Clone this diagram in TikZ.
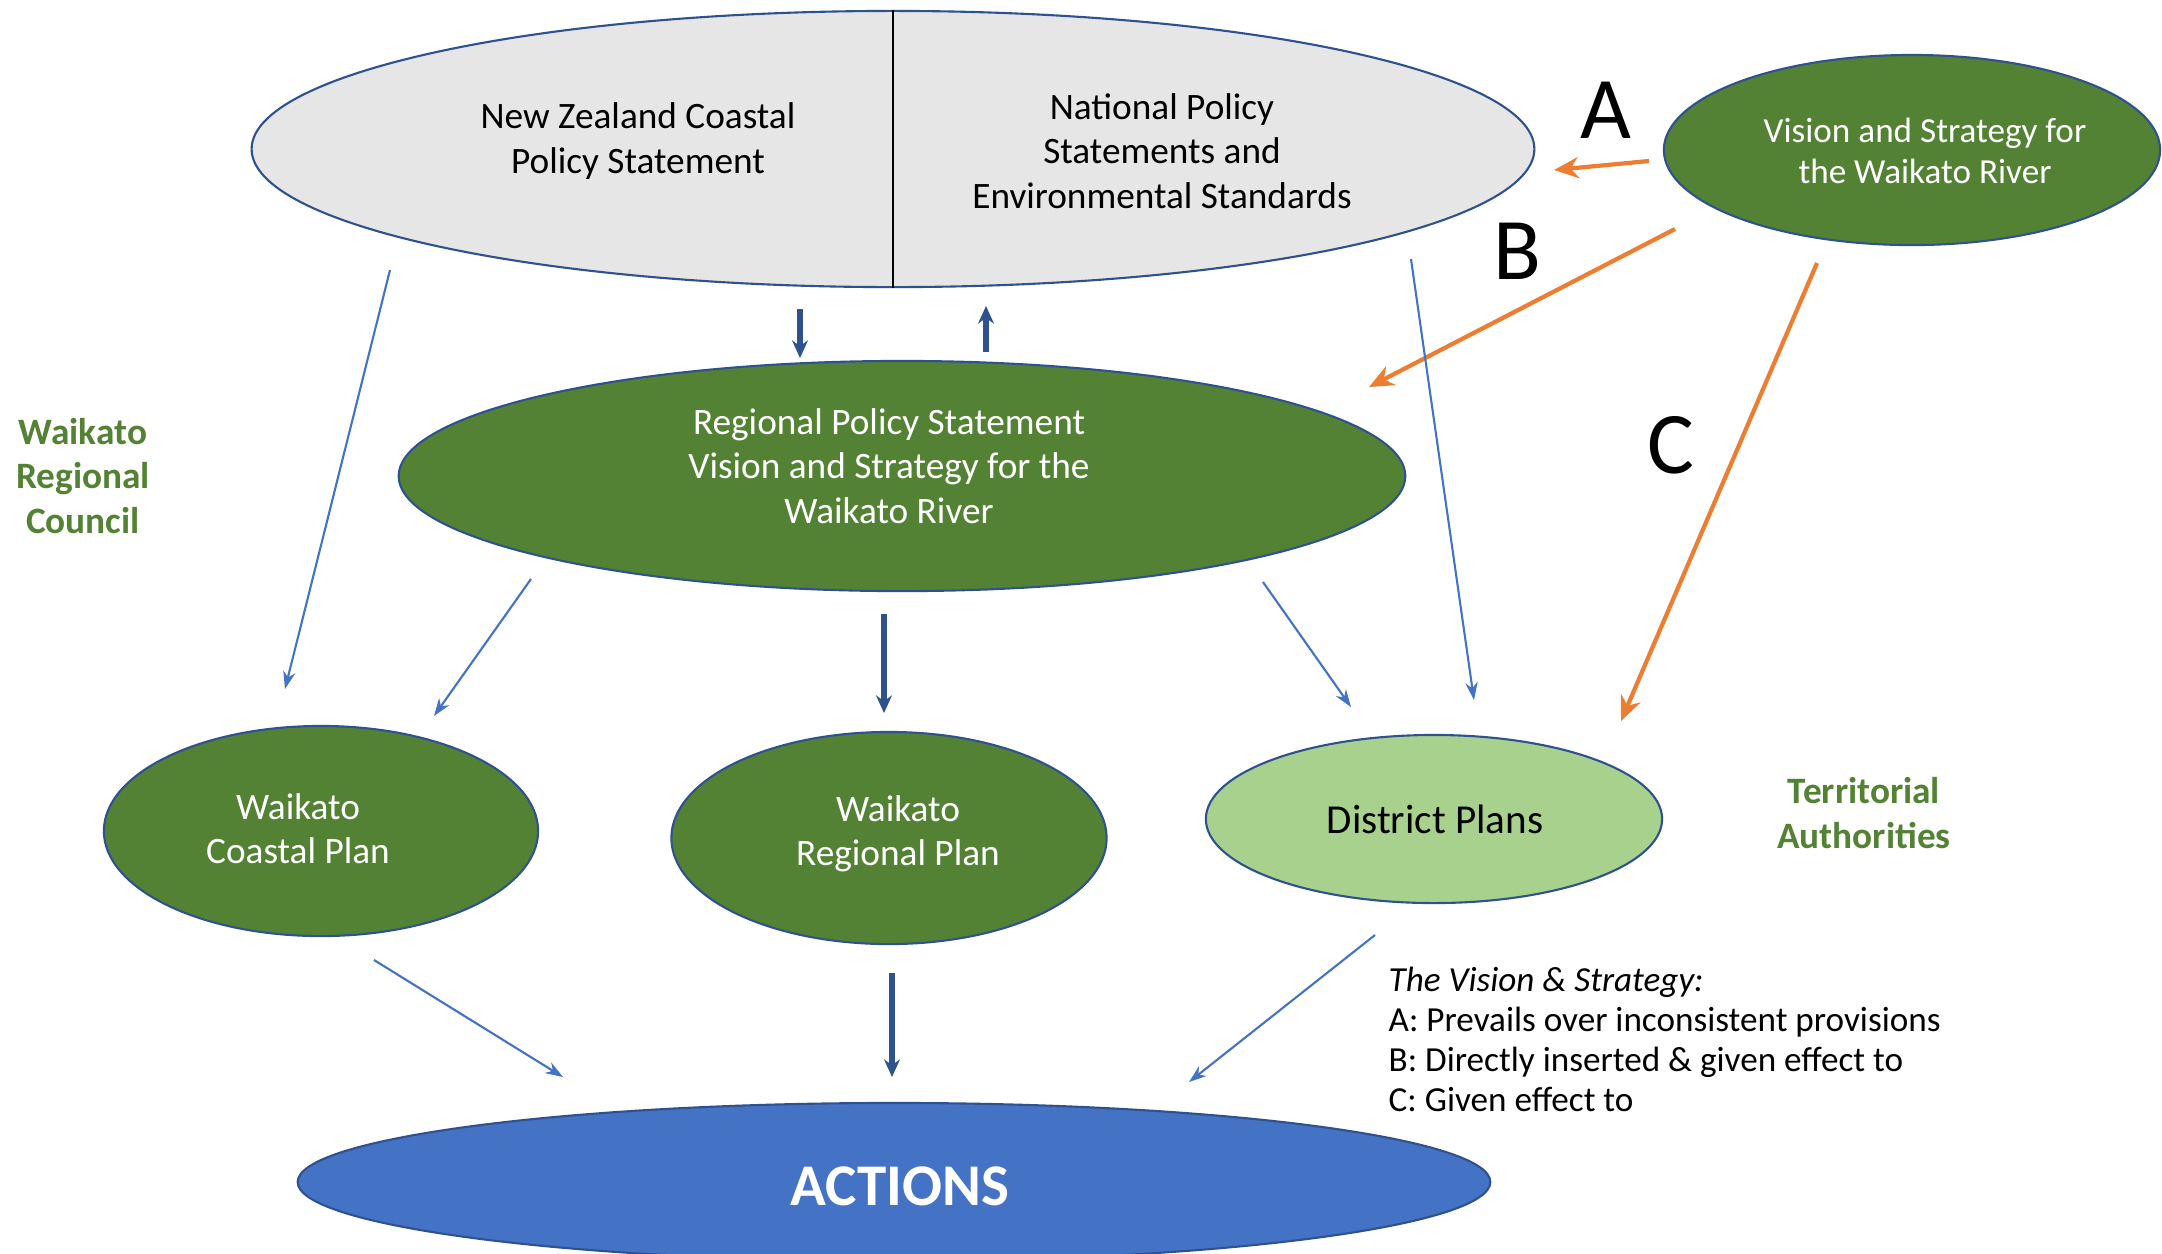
\documentclass[tikz,border=0pt]{standalone}
\usepackage{fontspec}
\setmainfont{Carlito}
\usetikzlibrary{shapes.geometric,arrows.meta}
\definecolor{dgreen}{HTML}{548235}
\definecolor{lgreen}{HTML}{A9D18E}
\definecolor{obord}{HTML}{2F528F}
\definecolor{oblue}{HTML}{4472C4}
\definecolor{oorange}{HTML}{ED7D31}
\definecolor{lgray}{HTML}{E7E6E6}
\begin{document}
\begin{tikzpicture}[x=0.01cm,y=-0.01cm,
  ell/.style={ellipse, draw=obord, line width=0.6pt, inner sep=0pt},
  txt/.style={align=center, inner sep=0pt, font=\fontsize{10.6pt}{12.6pt}\selectfont},
  wtxt/.style={txt, text=white},
  lbl/.style={align=center, inner sep=0pt, text=dgreen, font=\bfseries\fontsize{10.6pt}{12.6pt}\selectfont},
  letter/.style={inner sep=0pt, font=\fontsize{25pt}{29pt}\selectfont},
  thin/.style={draw=oblue, line width=0.6pt, -{Stealth[length=5pt,width=3.5pt]}},
  thick/.style={draw=obord, line width=1.7pt, -{Stealth[length=5pt,width=4.5pt]}},
  orng/.style={draw=oorange, line width=1.2pt, -{Stealth[length=7pt,width=6pt]}}]
\useasboundingbox[fill=white] (0,0) rectangle (2162,1253);

% ellipses
\node[ell, fill=lgray, minimum width=12.82cm, minimum height=2.76cm] (top) at (893,149) {};
\draw[line width=0.6pt] (top.north) -- (top.south);
\node[ell, fill=dgreen, minimum width=4.96cm, minimum height=1.90cm] (vis) at (1912,150) {};
\node[ell, fill=dgreen, minimum width=10.06cm, minimum height=2.30cm] (rps) at (902,476) {};
\node[ell, fill=dgreen, minimum width=4.34cm, minimum height=2.10cm] (wcp) at (321,831) {};
\node[ell, fill=dgreen, minimum width=4.35cm, minimum height=2.12cm] (wrp) at (889,838) {};
\node[ell, fill=lgreen, minimum width=4.56cm, minimum height=1.68cm] (dp) at (1434,819) {};
\node[ell, fill=oblue, minimum width=11.92cm, minimum height=1.58cm] (act) at (894,1182) {};

% texts
\node[txt] (nzcps) at (638,141) {New Zealand Coastal\\Policy Statement};
\node[txt] (nps) at (1162,151) {National Policy\\Statements and\\Environmental Standards};
\node[wtxt, font=\fontsize{10pt}{11.5pt}\selectfont] (vist) at (1925,151) {Vision and Strategy for\\the Waikato River};
\node[wtxt] (rpst) at (889,466) {Regional Policy Statement\\Vision and Strategy for the\\Waikato River};
\node[wtxt] (wcpt) at (298,829) {Waikato\\Coastal Plan};
\node[wtxt] (wrpt) at (898,834) {Waikato\\Regional Plan};
\node[txt, font=\fontsize{11.7pt}{14pt}\selectfont] (dpt) at (1435,819) {District Plans};
\node[inner sep=0pt, text=white, font=\bfseries\fontsize{16.8pt}{20pt}\selectfont] (actt) at (900,1186) {ACTIONS};

\node[lbl] (wrc) at (83,476) {Waikato\\Regional\\Council};
\node[lbl] (ta) at (1864,813) {Territorial\\Authorities};

\node[letter] (la) at (1606,110) {A};
\node[letter] (lb) at (1517,251) {B};
\node[letter] (lc) at (1671,445) {C};

\node[anchor=north west, align=left, inner sep=0pt, font=\fontsize{10pt}{11.4pt}\selectfont] (leg) at (1388,966)
  {\textit{The Vision \& Strategy:}\\A: Prevails over inconsistent provisions\\B: Directly inserted \& given effect to\\C: Given effect to};

% connector end points
\coordinate (a1) at (1649,161); \coordinate (a2) at (1554,170);
\coordinate (b1) at (1675,229); \coordinate (b2) at (1369,387);
\coordinate (c1) at (1817,263); \coordinate (c2) at (1621,721);
\coordinate (t1) at (390,270);  \coordinate (t2) at (285,689);
\coordinate (t3) at (1411,259); \coordinate (t4) at (1474,700);
\coordinate (d1) at (800,309);  \coordinate (d2) at (800,358);
\coordinate (u1) at (986,352);  \coordinate (u2) at (986,306);
\coordinate (r1) at (531,579);  \coordinate (r2) at (434,716);
\coordinate (r3) at (884,614);  \coordinate (r4) at (884,713);
\coordinate (r5) at (1263,582); \coordinate (r6) at (1351,707);
\coordinate (p1) at (374,960);  \coordinate (p2) at (563,1077);
\coordinate (p3) at (892,973);  \coordinate (p4) at (892,1077);
\coordinate (p5) at (1375,935); \coordinate (p6) at (1189,1082);

\draw[orng] (a1) -- (a2);
\draw[orng] (b1) -- (b2);
\draw[orng] (c1) -- (c2);
\draw[thin] (t1) -- (t2);
\draw[thin] (t3) -- (t4);
\draw[thick] (d1) -- (d2);
\draw[thick] (u1) -- (u2);
\draw[thin] (r1) -- (r2);
\draw[thick] (r3) -- (r4);
\draw[thin] (r5) -- (r6);
\draw[thin] (p1) -- (p2);
\draw[thick] (p3) -- (p4);
\draw[thin] (p5) -- (p6);
\end{tikzpicture}
\end{document}
